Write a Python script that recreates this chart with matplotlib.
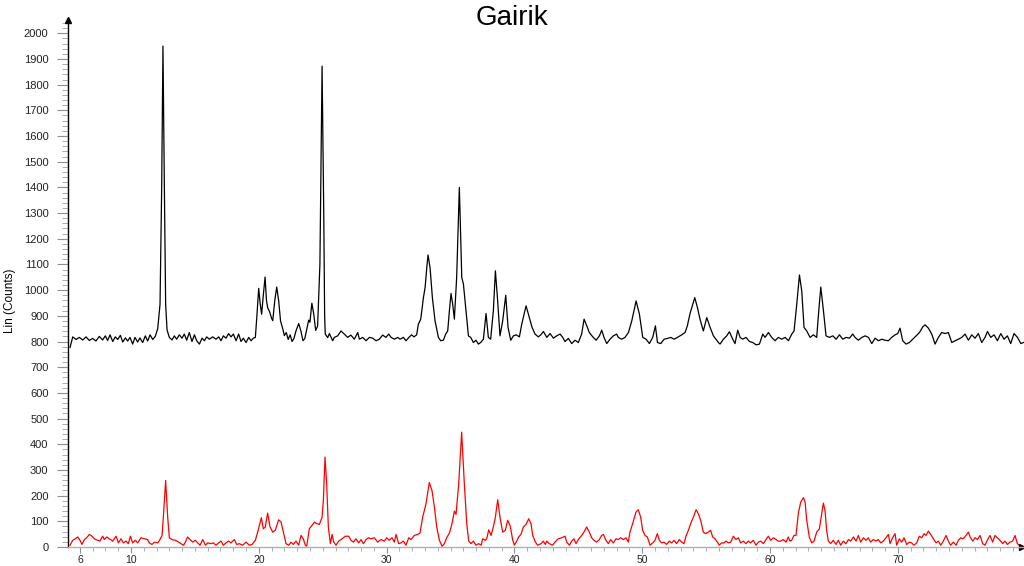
import matplotlib
matplotlib.use('Agg')
import matplotlib.pyplot as plt
from matplotlib.ticker import MultipleLocator, FixedLocator

plt.rcParams['font.family'] = ['Liberation Sans', 'DejaVu Sans']

# Gairik sample (black), 2-theta in degrees and Lin (Counts)
gairik_2theta = [
    5.23, 5.44, 5.70, 5.96, 6.22, 6.48, 6.74, 7.00, 7.26, 7.52, 7.78, 7.99, 8.17, 8.36, 8.57, 8.77,
    8.96, 9.17, 9.35, 9.56, 9.74, 9.92, 10.13, 10.31, 10.52, 10.70, 10.91, 11.12, 11.30, 11.49, 11.70, 11.90,
    12.09, 12.27, 12.40, 12.50, 12.61, 12.71, 12.82, 13.00, 13.21, 13.39, 13.57, 13.78, 13.99, 14.17, 14.36, 14.56,
    14.77, 14.96, 15.14, 15.35, 15.56, 15.74, 15.92, 16.13, 16.39, 16.65, 16.86, 17.04, 17.23, 17.43, 17.64, 17.82,
    18.01, 18.22, 18.42, 18.61, 18.79, 19.00, 19.21, 19.39, 19.57, 19.73, 19.85, 19.99, 20.10, 20.22, 20.35, 20.49,
    20.60, 20.69, 20.85, 21.00, 21.09, 21.25, 21.40, 21.55, 21.70, 21.87, 22.00, 22.15, 22.30, 22.45, 22.60, 22.75,
    22.90, 23.12, 23.30, 23.45, 23.60, 23.75, 23.90, 24.00, 24.15, 24.30, 24.45, 24.60, 24.78, 24.95, 25.08, 25.15,
    25.20, 25.39, 25.52, 25.78, 25.91, 26.17, 26.43, 26.69, 26.95, 27.20, 27.47, 27.74, 27.87, 28.13, 28.39, 28.65,
    28.91, 29.17, 29.43, 29.69, 29.95, 30.16, 30.35, 30.61, 30.87, 31.05, 31.31, 31.52, 31.78, 31.96, 32.14, 32.35,
    32.48, 32.67, 32.88, 33.01, 33.14, 33.24, 33.40, 33.58, 33.79, 34.05, 34.23, 34.44, 34.62, 34.78, 34.91, 35.04,
    35.17, 35.30, 35.48, 35.69, 35.88, 36.01, 36.21, 36.40, 36.58, 36.79, 36.99, 37.18, 37.36, 37.57, 37.78, 37.96,
    38.14, 38.35, 38.51, 38.67, 38.87, 39.08, 39.32, 39.50, 39.71, 39.92, 40.13, 40.39, 40.57, 40.91, 41.17, 41.38,
    41.61, 41.87, 42.06, 42.27, 42.53, 42.79, 43.05, 43.31, 43.57, 43.78, 43.96, 44.22, 44.48, 44.74, 45.00, 45.26,
    45.45, 45.66, 45.86, 46.13, 46.39, 46.65, 46.83, 47.01, 47.22, 47.48, 47.74, 48.00, 48.13, 48.39, 48.65, 48.92,
    49.18, 49.52, 49.78, 50.04, 50.30, 50.56, 50.82, 51.03, 51.19, 51.45, 51.71, 51.97, 52.23, 52.49, 52.75, 53.09,
    53.35, 53.53, 53.74, 54.11, 54.32, 54.52, 54.78, 55.05, 55.31, 55.57, 55.96, 56.09, 56.35, 56.61, 56.82, 57.08,
    57.26, 57.47, 57.66, 57.86, 58.12, 58.39, 58.65, 58.91, 59.17, 59.43, 59.61, 59.87, 60.13, 60.39, 60.65, 60.91,
    61.18, 61.44, 61.70, 61.88, 62.09, 62.30, 62.48, 62.66, 62.87, 63.13, 63.39, 63.65, 63.81, 63.97, 64.18, 64.38,
    64.64, 64.91, 65.17, 65.43, 65.69, 65.95, 66.21, 66.47, 66.65, 66.91, 67.18, 67.44, 67.70, 67.96, 68.22, 68.48,
    68.74, 68.99, 69.26, 69.52, 69.78, 69.99, 70.17, 70.38, 70.64, 70.90, 71.17, 71.43, 71.69, 71.95, 72.13, 72.39,
    72.65, 72.91, 73.17, 73.43, 73.70, 73.95, 74.22, 74.48, 74.74, 75.00, 75.26, 75.52, 75.78, 76.04, 76.30, 76.56,
    76.82, 77.01, 77.27, 77.53, 77.79, 78.05, 78.31, 78.57, 78.83, 79.09, 79.36, 79.62, 79.82,
]
gairik_counts = [
    777, 818, 808, 816, 806, 818, 804, 812, 802, 820, 806, 822, 804, 826, 800, 818,
    808, 824, 798, 814, 802, 816, 790, 816, 798, 814, 796, 822, 802, 826, 808, 820,
    850, 945, 1400, 1950, 1400, 945, 845, 816, 806, 822, 809, 826, 813, 829, 805, 835,
    800, 826, 803, 790, 813, 803, 818, 809, 818, 809, 818, 803, 822, 813, 831, 818,
    829, 803, 829, 800, 813, 796, 816, 803, 813, 816, 900, 1007, 950, 906, 980, 1051,
    960, 932, 915, 890, 881, 960, 1012, 960, 880, 850, 823, 835, 808, 826, 800, 812,
    840, 870, 840, 803, 812, 848, 883, 875, 949, 906, 843, 860, 1100, 1872, 1300, 900,
    829, 815, 831, 803, 816, 822, 841, 829, 816, 825, 809, 835, 809, 816, 803, 816,
    813, 803, 809, 825, 816, 829, 816, 809, 816, 809, 816, 803, 818, 826, 818, 826,
    867, 887, 971, 1010, 1087, 1137, 1087, 971, 880, 816, 803, 805, 829, 841, 919, 987,
    945, 887, 1049, 1400, 1049, 1023, 919, 822, 816, 796, 805, 790, 796, 809, 909, 816,
    809, 919, 1075, 971, 822, 880, 980, 855, 805, 822, 826, 818, 867, 939, 893, 855,
    829, 818, 826, 839, 816, 831, 813, 822, 829, 816, 800, 812, 792, 805, 796, 829,
    887, 861, 835, 818, 805, 822, 844, 816, 792, 809, 822, 829, 816, 809, 816, 835,
    880, 958, 906, 816, 809, 792, 816, 861, 796, 792, 809, 812, 816, 809, 816, 826,
    835, 861, 909, 971, 932, 887, 841, 893, 855, 822, 796, 790, 809, 822, 838, 809,
    792, 844, 816, 809, 816, 800, 796, 787, 790, 829, 816, 835, 816, 803, 816, 809,
    816, 803, 829, 841, 945, 1059, 997, 855, 841, 816, 826, 816, 919, 1012, 919, 822,
    816, 822, 809, 826, 809, 816, 813, 829, 816, 805, 816, 822, 816, 792, 813, 803,
    809, 805, 803, 816, 826, 831, 852, 803, 790, 796, 809, 822, 835, 857, 865, 852,
    829, 790, 816, 835, 831, 835, 796, 803, 809, 816, 829, 805, 826, 813, 831, 796,
    816, 839, 816, 826, 803, 831, 809, 822, 792, 831, 816, 792, 796,
]

# second pattern (red)
red_2theta = [
    5.23, 5.44, 5.64, 5.83, 6.01, 6.17, 6.35, 6.53, 6.74, 6.95, 7.13, 7.39, 7.57, 7.78, 7.91, 8.10,
    8.31, 8.57, 8.83, 9.01, 9.22, 9.40, 9.61, 9.79, 9.95, 10.13, 10.34, 10.52, 10.78, 11.04, 11.30, 11.43,
    11.64, 11.83, 12.09, 12.27, 12.43, 12.53, 12.71, 12.87, 13.00, 13.21, 13.47, 13.73, 13.91, 14.10, 14.25, 14.43,
    14.62, 14.83, 15.03, 15.22, 15.40, 15.61, 15.82, 16.00, 16.26, 16.44, 16.65, 16.86, 17.04, 17.22, 17.43, 17.64,
    17.82, 18.09, 18.27, 18.48, 18.74, 19.00, 19.26, 19.47, 19.73, 19.91, 20.20, 20.35, 20.51, 20.69, 20.88, 21.09,
    21.29, 21.55, 21.74, 21.92, 22.13, 22.34, 22.52, 22.70, 22.91, 23.12, 23.30, 23.48, 23.64, 23.75, 23.95, 24.16,
    24.35, 24.53, 24.74, 24.95, 25.05, 25.18, 25.31, 25.44, 25.60, 25.73, 25.86, 26.04, 26.25, 26.51, 26.77, 27.03,
    27.21, 27.40, 27.60, 27.81, 28.00, 28.18, 28.39, 28.60, 28.78, 29.04, 29.30, 29.56, 29.82, 30.01, 30.21, 30.42,
    30.60, 30.74, 30.94, 31.13, 31.31, 31.52, 31.73, 31.91, 32.17, 32.43, 32.61, 32.82, 33.08, 33.34, 33.55, 33.74,
    33.92, 34.13, 34.34, 34.52, 34.70, 34.91, 35.12, 35.30, 35.43, 35.64, 35.87, 36.08, 36.27, 36.42, 36.60, 36.79,
    36.99, 37.20, 37.39, 37.52, 37.73, 37.83, 37.99, 38.17, 38.35, 38.51, 38.69, 38.87, 39.08, 39.29, 39.47, 39.66,
    39.87, 40.00, 40.18, 40.33, 40.51, 40.70, 40.91, 41.12, 41.30, 41.43, 41.64, 41.82, 42.08, 42.26, 42.42, 42.52,
    42.73, 42.99, 43.17, 43.43, 43.70, 43.96, 44.09, 44.30, 44.48, 44.66, 44.82, 45.00, 45.26, 45.44, 45.65, 45.86,
    46.04, 46.23, 46.43, 46.64, 46.83, 46.96, 47.16, 47.35, 47.53, 47.74, 47.95, 48.13, 48.31, 48.52, 48.73, 48.91,
    49.04, 49.25, 49.51, 49.69, 49.88, 50.03, 50.22, 50.40, 50.61, 50.82, 51.00, 51.18, 51.34, 51.52, 51.70, 51.91,
    52.12, 52.30, 52.49, 52.69, 52.90, 53.08, 53.27, 53.42, 53.61, 53.79, 54.00, 54.21, 54.39, 54.57, 54.78, 54.96,
    55.17, 55.35, 55.51, 55.69, 55.88, 56.03, 56.21, 56.40, 56.55, 56.74, 56.92, 57.13, 57.34, 57.52, 57.70, 57.91,
    58.12, 58.30, 58.48, 58.69, 58.90, 59.08, 59.27, 59.48, 59.68, 59.87, 60.05, 60.26, 60.47, 60.65, 60.83, 61.04,
    61.25, 61.43, 61.56, 61.69, 61.87, 62.03, 62.21, 62.40, 62.61, 62.74, 62.87, 63.07, 63.26, 63.44, 63.65, 63.86,
    64.04, 64.17, 64.30, 64.43, 64.56, 64.74, 64.95, 65.16, 65.34, 65.53, 65.73, 65.94, 66.13, 66.31, 66.52, 66.73,
    66.91, 67.09, 67.30, 67.51, 67.69, 67.87, 68.08, 68.29, 68.47, 68.66, 68.86, 69.07, 69.26, 69.39, 69.59, 69.78,
    69.91, 70.12, 70.30, 70.48, 70.69, 70.90, 71.08, 71.26, 71.47, 71.68, 71.87, 72.05, 72.20, 72.39, 72.57, 72.78,
    72.99, 73.17, 73.35, 73.56, 73.77, 73.95, 74.13, 74.34, 74.55, 74.73, 74.92, 75.12, 75.33, 75.52, 75.65, 75.86,
    76.04, 76.22, 76.43, 76.64, 76.82, 77.00, 77.21, 77.42, 77.60, 77.78, 77.99, 78.20, 78.38, 78.57, 78.78, 78.98,
    79.17, 79.35, 79.51, 79.69,
]
red_counts = [
    7, 26, 32, 39, 26, 10, 29, 36, 49, 42, 32, 26, 23, 42, 29, 39,
    32, 23, 42, 16, 32, 16, 23, 13, 42, 16, 26, 16, 36, 32, 29, 16,
    10, 19, 16, 29, 45, 116, 259, 116, 36, 29, 26, 19, 13, 7, 19, 39,
    29, 19, 26, 16, 7, 29, 7, 16, 13, 16, 7, 16, 23, 7, 16, 23,
    16, 29, 10, 13, 7, 19, 7, 10, 26, 58, 114, 71, 78, 132, 78, 58,
    65, 106, 97, 58, 13, 7, 19, 10, 23, 7, 45, 32, 7, 3, 71, 84,
    97, 91, 88, 116, 181, 350, 246, 78, 13, 49, 19, 7, 23, 32, 42, 42,
    26, 19, 32, 16, 29, 13, 29, 36, 32, 36, 19, 29, 23, 36, 26, 36,
    19, 49, 13, 16, 23, 7, 36, 29, 45, 49, 54, 116, 168, 251, 220, 155,
    78, 26, 3, 13, 36, 54, 91, 140, 127, 246, 447, 246, 91, 23, 13, 23,
    7, 13, 7, 32, 26, 32, 67, 45, 78, 116, 184, 116, 58, 65, 104, 84,
    26, 7, 23, 39, 49, 78, 88, 110, 91, 45, 19, 7, 13, 23, 10, 23,
    13, 7, 19, 32, 36, 42, 19, 7, 23, 32, 13, 29, 45, 58, 78, 58,
    36, 26, 19, 29, 45, 49, 26, 13, 29, 16, 32, 29, 36, 29, 36, 19,
    58, 91, 136, 145, 116, 65, 45, 39, 7, 16, 26, 52, 26, 16, 19, 10,
    23, 16, 26, 13, 29, 19, 13, 42, 65, 91, 116, 145, 130, 104, 58, 52,
    58, 65, 39, 32, 19, 7, 16, 16, 23, 16, 19, 42, 29, 36, 16, 23,
    13, 23, 16, 26, 7, 19, 23, 13, 29, 42, 26, 36, 29, 23, 23, 29,
    19, 39, 23, 26, 45, 45, 130, 175, 192, 175, 104, 39, 16, 23, 58, 71,
    130, 171, 142, 65, 23, 13, 26, 10, 26, 7, 23, 13, 29, 23, 39, 23,
    45, 19, 36, 26, 36, 19, 29, 23, 29, 16, 23, 36, 49, 13, 36, 52,
    7, 32, 19, 36, 10, 19, 16, 7, 16, 42, 36, 52, 45, 62, 49, 32,
    16, 23, 7, 23, 45, 23, 7, 19, 7, 26, 36, 32, 45, 58, 39, 23,
    36, 29, 45, 13, 7, 26, 45, 19, 45, 36, 26, 13, 23, 10, 19, 23,
    45, 13, 7, 3,
]

xtick_vals = [6, 10, 20, 30, 40, 50, 60, 70]

fig = plt.figure(figsize=(10.24, 5.66), dpi=100)
ax = fig.add_axes([68 / 1024, 19 / 566, 956 / 1024, 524 / 566])

ax.plot(gairik_2theta, gairik_counts, color='black', lw=0.9)
ax.plot(red_2theta, red_counts, color='red', lw=0.9)

ax.set_xlim(5.07, 79.87)
ax.set_ylim(0, 2040)

for s in ['top', 'right']:
    ax.spines[s].set_visible(False)
ax.spines['left'].set_color('black')
ax.spines['left'].set_linewidth(1.0)
ax.spines['bottom'].set_color('#b0b0b0')
ax.spines['bottom'].set_linewidth(1.0)

ax.yaxis.set_major_locator(MultipleLocator(100))
ax.yaxis.set_minor_locator(MultipleLocator(20))
ax.xaxis.set_major_locator(FixedLocator(xtick_vals))
ax.xaxis.set_minor_locator(MultipleLocator(1))

ax.tick_params(axis='y', which='major', length=8, width=0.8, color='#909090',
               labelsize=8, labelcolor='#222222', pad=6)
ax.tick_params(axis='y', which='minor', length=4, width=0.6, color='#a0a0a0')
ax.tick_params(axis='x', which='major', length=4, width=0.8, color='#909090',
               labelsize=7.5, labelcolor='#222222', pad=1.5)
ax.tick_params(axis='x', which='minor', length=3, width=0.6, color='#a0a0a0')

ax.set_ylabel('Lin (Counts)', fontsize=8.5)
ax.yaxis.set_label_coords(-0.054, 0.47)

# arrow heads at the axis ends
ax.plot([0], [1.005], marker='^', ms=5, color='black', transform=ax.transAxes, clip_on=False)
ax.plot([0.998], [0], marker='>', ms=4, color='black', transform=ax.transAxes, clip_on=False)

fig.text(0.5, 0.992, 'Gairik', ha='center', va='top', fontsize=20)

plt.savefig('out.png', dpi=100)
